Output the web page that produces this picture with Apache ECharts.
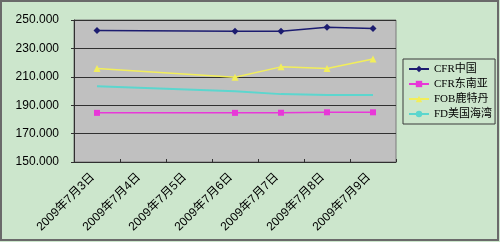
<!DOCTYPE html>
<html>
<head>
<meta charset="utf-8">
<script src="https://cdn.jsdelivr.net/npm/echarts@6/dist/echarts.min.js"></script>
<style>
html,body{margin:0;padding:0;background:#CCE6CC;}
#chart{width:500px;height:242px;}
</style>
</head>
<body>
<div id="chart"></div>
<script>
const categories = ['2009年7月3日','2009年7月4日','2009年7月5日','2009年7月6日','2009年7月7日','2009年7月8日','2009年7月9日'];
const seriesNames = ['CFR中国','CFR东南亚','FOB鹿特丹','FD美国海湾'];
const cfrChina = [242.6, null, null, 242.1, 242.1, 244.9, 244.0];
const cfrSEA = [184.6, null, null, 184.6, 184.7, 185.0, 185.0];
const fobRotterdam = [215.8, null, null, 209.7, 217.0, 215.8, 222.6];
const fdUSGulf = [203.3, null, null, 199.9, 197.8, 197.1, 197.1];
const yMin = 150, yMax = 250, yStep = 20;

const chart = echarts.init(document.getElementById('chart'), null, {renderer:'canvas'});
const fontCJK = "'Liberation Sans','Noto Sans CJK SC',sans-serif";
function line(name, data, color, symbol, size, width){
  return {
    name: name, type:'line', data:data, connectNulls:true,
    symbol: symbol, symbolSize: size, showSymbol: symbol !== 'none',
    lineStyle:{color:color, width:width},
    itemStyle:{color:color, borderColor:color, borderWidth:0},
    emphasis:{disabled:true}, animation:false
  };
}
chart.setOption({
  backgroundColor:'#CCE6CC',
  animation:false,
  graphic:[{type:'rect', shape:{x:1,y:1,width:497,height:239}, style:{fill:'none', stroke:'#6A6A6A', lineWidth:2}, silent:true}],
  grid:{left:74, top:20, right:104, bottom:80, show:true, backgroundColor:'#C0C0C0', borderColor:'#7A7A7A', borderWidth:1},
  legend:{
    orient:'vertical', left:403, top:59,
    data: seriesNames,
    backgroundColor:'#CCE6CC', borderColor:'#3A3A3A', borderWidth:1,
    padding:[4,3,4,5], itemGap:3, itemWidth:20, itemHeight:8,
    textStyle:{fontSize:11, fontFamily:"'Liberation Serif','Noto Sans CJK SC',serif", color:'#000', lineHeight:12}
  },
  xAxis:{
    type:'category', data:categories, boundaryGap:true,
    axisLine:{show:true, lineStyle:{color:'#303030', width:1}},
    axisTick:{show:true, inside:true, length:3, lineStyle:{color:'#303030'}},
    axisLabel:{rotate:45, margin:9, padding:[0,6,0,0], fontSize:12, fontFamily:fontCJK, color:'#000', interval:0},
    splitLine:{show:false}
  },
  yAxis:{
    type:'value', min:yMin, max:yMax, interval:yStep,
    axisLine:{show:true, lineStyle:{color:'#303030', width:1}},
    axisTick:{show:true, length:3, lineStyle:{color:'#303030'}},
    axisLabel:{margin:15, fontSize:12, fontFamily:"'Liberation Sans',sans-serif", color:'#000', formatter:function(v){return v.toFixed(3);}},
    splitLine:{show:true, lineStyle:{color:'#303030', width:1}}
  },
  series:[
    line(seriesNames[0], cfrChina, '#1C1C70', 'diamond', 7, 1.5),
    line(seriesNames[1], cfrSEA, '#E838D8', 'rect', 6, 1.5),
    line(seriesNames[2], fobRotterdam, '#F2EE5A', 'triangle', 7, 1.5),
    line(seriesNames[3], fdUSGulf, '#5CD6CE', 'none', 4, 2)
  ]
});
</script>
</body>
</html>
